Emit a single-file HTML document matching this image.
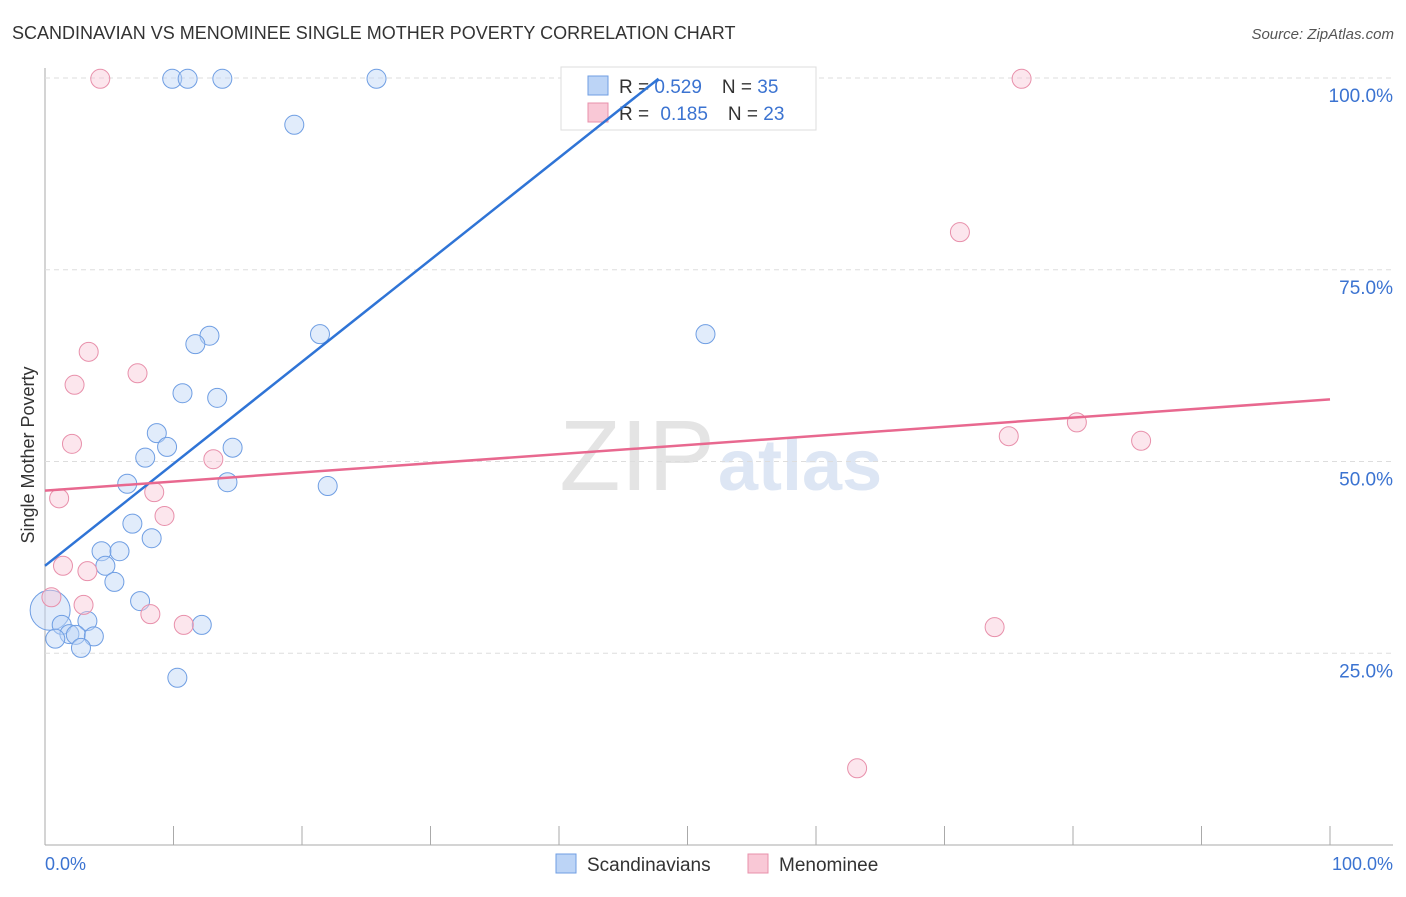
<!DOCTYPE html>
<html><head><meta charset="utf-8"><style>
body{margin:0;background:#fff;font-family:"Liberation Sans",sans-serif;}
svg text{font-family:"Liberation Sans",sans-serif;}
</style></head><body>
<svg id="c" width="1406" height="892">
<text x="12" y="39" font-size="18" fill="#333">SCANDINAVIAN VS MENOMINEE SINGLE MOTHER POVERTY CORRELATION CHART</text>
<text x="1394" y="39" font-size="15" fill="#555" font-style="italic" text-anchor="end">Source: ZipAtlas.com</text>
<text x="715" y="490" font-size="100" fill="#e4e4e4" text-anchor="end" font-family="Liberation Serif">ZIP</text>
<text x="718" y="490" font-size="72" fill="#dde6f4" font-weight="bold">atlas</text>
<g id="grid"></g>
<g>
<rect x="561" y="67" width="255" height="63" fill="#fff" stroke="#ddd"/>
<rect x="588" y="76" width="20" height="19" fill="#bcd4f6" stroke="#6f9ee3"/>
<rect x="588" y="103" width="20" height="19" fill="#f9c8d6" stroke="#e890ab"/>
<text x="619" y="93" font-size="19" fill="#333">R = <tspan fill="#3b73d1">0.529</tspan><tspan dx="20">N = </tspan><tspan fill="#3b73d1">35</tspan></text>
<text x="619" y="120" font-size="19" fill="#333">R = <tspan dx="6" fill="#3b73d1">0.185</tspan><tspan dx="20">N = </tspan><tspan fill="#3b73d1">23</tspan></text>
</g>
<g id="marks"></g>
<text x="34" y="455" font-size="18" fill="#333" text-anchor="middle" transform="rotate(-90 34 455)">Single Mother Poverty</text>
<text x="45" y="870" font-size="18" fill="#3b73d1">0.0%</text>
<text x="1393" y="870" font-size="18" fill="#3b73d1" text-anchor="end">100.0%</text>
<g>
<rect x="556" y="854" width="20" height="19" fill="#bcd4f6" stroke="#6f9ee3"/>
<text x="587" y="871" font-size="19" fill="#333">Scandinavians</text>
<rect x="748" y="854" width="20" height="19" fill="#f9c8d6" stroke="#e890ab"/>
<text x="779" y="871" font-size="19" fill="#333">Menominee</text>
</g>
</svg>
<script>
const yTicks=[25,50,75,100];
const blueX=[9.9,11.1,13.8,25.8,19.4,51.4,21.4,12.8,11.7,10.7,13.4,8.7,9.5,14.6,7.8,6.4,14.2,22.0,6.8,8.3,4.4,5.8,4.7,5.4,7.4,3.3,1.3,1.9,2.4,3.8,0.8,2.8,12.2,10.3];
const blueY=[99.9,99.9,99.9,99.9,93.9,66.6,66.6,66.4,65.3,58.9,58.3,53.7,51.9,51.8,50.5,47.1,47.3,46.8,41.9,40.0,38.3,38.3,36.4,34.3,31.8,29.2,28.7,27.5,27.4,27.2,26.9,25.7,28.7,21.8];
const pinkX=[4.3,76.0,71.2,3.4,7.2,2.3,2.1,13.1,75.0,80.3,85.3,1.1,8.5,9.3,1.4,3.3,3.0,8.2,10.8,73.9,63.2,0.5];
const pinkY=[99.9,99.9,79.9,64.3,61.5,60.0,52.3,50.3,53.3,55.1,52.7,45.2,46.0,42.9,36.4,35.7,31.3,30.1,28.7,28.4,10.0,32.3];
const blueTrend=[36.4,1.33];   // intercept, slope
const pinkTrend=[46.2,0.119];
const NS='http://www.w3.org/2000/svg';
const X=v=>45+v*12.85, Y=v=>845-v*7.67;
const grid=document.getElementById('grid'), marks=document.getElementById('marks');
function mk(tag,a,p){const e=document.createElementNS(NS,tag);for(const k in a)e.setAttribute(k,a[k]);p.appendChild(e);return e;}
let e;
e=mk('line',{x1:45,y1:845,x2:1393,y2:845,stroke:'#aaa'},grid);


e=mk('line',{x1:45,y1:68,x2:45,y2:845,stroke:'#aaa'},grid);


for(let i=0;i<=10;i++){e=mk('line',{x1:X(i*10),y1:826,x2:X(i*10),y2:845,stroke:'#aaa'},grid);

}
yTicks.forEach(t=>{e=mk('line',{x1:45,y1:Y(t),x2:1393,y2:Y(t),stroke:'#ddd','stroke-dasharray':'5,4'},grid);


e=mk('text',{x:1393,y:Y(t)+24,'font-size':19,fill:'#3b73d1','text-anchor':'end'},grid);e.textContent=t.toFixed(1)+'%';

});
e=mk('circle',{cx:X(0.4),cy:Y(30.6),r:20,fill:'#bcd4f6','fill-opacity':0.45,stroke:'#6f9ee3'},marks);


blueX.forEach((x,i)=>{e=mk('circle',{cx:X(x),cy:Y(blueY[i]),r:9.5,fill:'#bcd4f6','fill-opacity':0.45,stroke:'#6f9ee3'},marks);

});
pinkX.forEach((x,i)=>{e=mk('circle',{cx:X(x),cy:Y(pinkY[i]),r:9.5,fill:'#f9c8d6','fill-opacity':0.45,stroke:'#e890ab'},marks);

});
const bxEnd=(99.9-blueTrend[0])/blueTrend[1];
e=mk('line',{x1:X(0),y1:Y(blueTrend[0]),x2:X(bxEnd),y2:Y(blueTrend[0]+blueTrend[1]*bxEnd),stroke:'#2f74d6','stroke-width':2.5},marks);


e=mk('line',{x1:X(0),y1:Y(pinkTrend[0]),x2:X(100),y2:Y(pinkTrend[0]+pinkTrend[1]*100),stroke:'#e8688f','stroke-width':2.5},marks);


</script>
</body></html>
